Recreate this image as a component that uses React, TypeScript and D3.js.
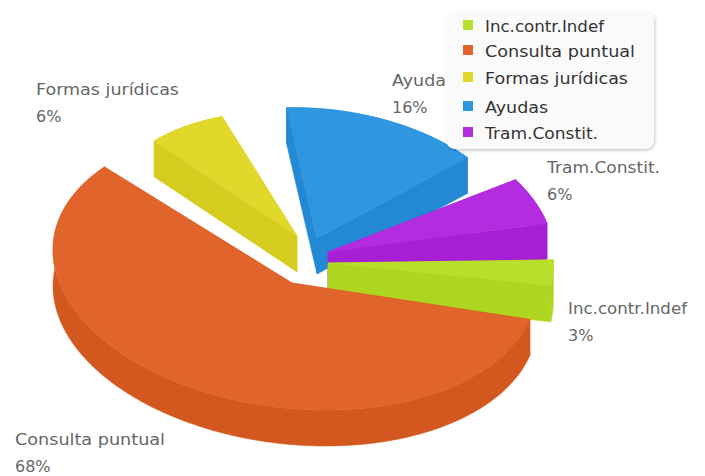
import React, { useEffect, useRef } from "react";
import * as d3 from "d3";

// data
const categories = ["Inc.contr.Indef", "Consulta puntual", "Formas jurídicas", "Ayudas", "Tram.Constit."];
const percentLabels = [3, 68, 6, 16, 6];
// the slices as they are drawn, in percent of the turn: not the same as the labels
const drawnShare = [3.2, 56.7, 7.1, 15.8, 5.6];
const gapAfter = [1.4, 0.7, 4.0, 2.4, 3.1];
const legendOrder = [0, 1, 2, 3, 4];

// styling / layout per slice
const topColors = ["#b6e02b", "#e0642c", "#e1d82c", "#2e97e0", "#b32ce0"];
const wallColors = ["#aed620", "#d2581f", "#d6cc1f", "#2389d4", "#a61fd4"];
const explodeX = [36, 0, 5, 25, 36];
const explodeY = [-20, 0, -47, -45, -31];
const sliceScale = [0.92, 1, 0.79, 0.83, 0.92];
const paintOrder = [2, 3, 4, 0, 1];
const labelPos = [[568, 314], [15, 445], [36, 95], [392, 86], [547, 173]];
const labelWidth = [119, 150, 143, 63, 113];
const legendRowY = [25, 50, 77, 106, 132];

const FONT = "'DejaVu Sans', sans-serif";
const FONT_SIZE = 16;
const WIDTH = 705;
const HEIGHT = 476;
const DEPTH = 36;

const apex = { x: 292, y: 283 };
const startAngle = (-2.6 * Math.PI) / 180;

const App = () => {
    const ref = useRef<SVGSVGElement>(null);

    useEffect(() => {
        const svg = d3.select(ref.current);
        svg.selectAll("*").remove();

        const defs = svg.append("defs");
        const shadow = defs.append("filter").attr("id", "legendShadow")
            .attr("x", "-10%").attr("y", "-10%").attr("width", "120%").attr("height", "125%");
        shadow.append("feDropShadow").attr("dx", 1).attr("dy", 1.5).attr("stdDeviation", 1.5)
            .attr("flood-color", "#000").attr("flood-opacity", 0.22);

        const pie = d3.pie<number>()
            .sort(null)
            .value((_, i) => drawnShare[i] + gapAfter[i])
            .startAngle(startAngle)
            .endAngle(startAngle + 2 * Math.PI);
        const arcs = pie(drawnShare);

        const line = d3.line<[number, number]>();

        // tilted ellipse: the disc is squashed and leaning a little, apex sits below its centre
        const project = (i: number, a: number): [number, number] => {
            const s = sliceScale[i];
            return [
                apex.x + explodeX[i] + s * (3 + 242 * Math.cos(a)),
                apex.y + explodeY[i] + s * (-15 + 18 * Math.cos(a) + 140.9 * Math.sin(a)),
            ];
        };
        const down = (p: [number, number]): [number, number] => [p[0], p[1] + DEPTH];

        const chart = svg.append("g");
        paintOrder.forEach((i) => {
            const d = arcs[i];
            const start = d.startAngle;
            const end = d.startAngle + ((d.endAngle - d.startAngle) * drawnShare[i]) / (drawnShare[i] + gapAfter[i]);
            const rim = d3.range(start, end, 0.01).map((a) => project(i, a));
            rim.push(project(i, end));
            const centre: [number, number] = [apex.x + explodeX[i], apex.y + explodeY[i]];

            const g = chart.append("g");
            const wall = (pts: [number, number][]) => g.append("path")
                .attr("d", line(pts) + "Z")
                .attr("fill", wallColors[i])
                .attr("stroke", wallColors[i])
                .attr("stroke-width", 0.5);

            wall([centre, rim[0], down(rim[0]), down(centre)]);
            wall([centre, rim[rim.length - 1], down(rim[rim.length - 1]), down(centre)]);
            wall([...rim, ...rim.map(down).reverse()]);

            g.append("path")
                .attr("d", line([centre, ...rim]) + "Z")
                .attr("fill", topColors[i])
                .attr("stroke", topColors[i])
                .attr("stroke-width", 0.5);
        });

        const labels = svg.append("g").attr("font-family", FONT).attr("font-size", FONT_SIZE).attr("fill", "#666");
        categories.forEach((c, i) => {
            labels.append("text").attr("x", labelPos[i][0]).attr("y", labelPos[i][1])
                .attr("textLength", labelWidth[i]).attr("lengthAdjust", "spacingAndGlyphs").text(c);
            labels.append("text").attr("x", labelPos[i][0]).attr("y", labelPos[i][1] + 27).text(`${percentLabels[i]}%`);
        });

        const legend = svg.append("g");
        legend.append("rect")
            .attr("x", 446).attr("y", 11).attr("width", 208).attr("height", 138).attr("rx", 9)
            .attr("fill", "#fafafa")
            .attr("filter", "url(#legendShadow)");
        legendOrder.forEach((i, row) => {
            legend.append("rect")
                .attr("x", 463).attr("y", legendRowY[row] - 5).attr("width", 10).attr("height", 10)
                .attr("fill", topColors[i]);
            legend.append("text")
                .attr("x", 485).attr("y", legendRowY[row] + 6.5)
                .attr("font-family", FONT).attr("font-size", FONT_SIZE).attr("fill", "#333")
                .attr("textLength", labelWidth[i]).attr("lengthAdjust", "spacingAndGlyphs")
                .text(categories[i]);
        });
    }, []);

    return (
        <svg
            ref={ref}
            width={WIDTH}
            height={HEIGHT}
            style={{ position: "absolute", left: 0, top: 0, background: "#fff" }}
        />
    );
};

export default App;
